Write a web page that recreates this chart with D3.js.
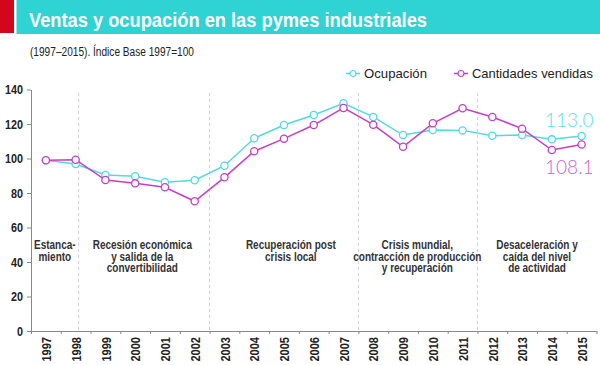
<!DOCTYPE html>
<html>
<head>
<meta charset="utf-8">
<script src="https://cdn.jsdelivr.net/npm/d3@7"></script>
<style>
  body { margin: 0; background: #fff; }
  .cond { font-family: "Liberation Sans", Arial, sans-serif; font-weight: bold; }
</style>
</head>
<body>
<script>
// Data
var years = [1997, 1998, 1999, 2000, 2001, 2002, 2003, 2004, 2005, 2006,
             2007, 2008, 2009, 2010, 2011, 2012, 2013, 2014, 2015];
var ocupacion = [99, 96.8, 90.4, 89.7, 86.2, 87.4, 95.8, 111.7, 119.4, 125.2,
                 132.0, 124.1, 113.6, 116.5, 116.3, 113.2, 113.6, 111.1, 113.0];
var vendidas = [99, 99.3, 87.5, 85.6, 83.3, 75.2, 89.1, 104.2, 111.5, 119.4,
                129.3, 119.6, 106.8, 120.4, 129.1, 124.1, 117.3, 104.9, 108.1];
var yTicks = [0, 20, 40, 60, 80, 100, 120, 140];
var separators = [1998.1, 2002.5, 2007.5, 2011.5];
var periodPos = [1997.3, 2000.24, 2005.23, 2009.48, 2013.5];
var periodText = [
  ["Estanca-", "miento"],
  ["Recesión económica", "y salida de la", "convertibilidad"],
  ["Recuperación post", "crisis local"],
  ["Crisis mundial,", "contracción de producción", "y recuperación"],
  ["Desaceleración y", "caída del nivel", "de actividad"]
];

var W = 600, H = 365;
var cyan = "#4fdbe0", magenta = "#c93cc9";
var squeeze = 0.8; // the reference uses a condensed face

var svg = d3.select("body").append("svg")
  .attr("width", W)
  .attr("height", H);

// Header bar
svg.append("rect").attr("x", 0).attr("y", 0).attr("width", 14).attr("height", 33).attr("fill", "#d2061c");
svg.append("rect").attr("x", 16.5).attr("y", 0).attr("width", W - 16.5).attr("height", 34).attr("fill", "#2fd3d3");
svg.append("text")
  .attr("x", 29).attr("y", 26.5)
  .attr("textLength", 398).attr("lengthAdjust", "spacingAndGlyphs")
  .style("font-family", "Liberation Sans, Arial, sans-serif")
  .style("font-weight", "bold").style("font-size", "21px")
  .attr("fill", "#fff")
  .text("Ventas y ocupación en las pymes industriales");

svg.append("text")
  .attr("x", 30).attr("y", 55.5)
  .attr("textLength", 164).attr("lengthAdjust", "spacingAndGlyphs")
  .style("font-family", "Liberation Sans, Arial, sans-serif")
  .style("font-size", "12.5px")
  .attr("fill", "#222")
  .text("(1997–2015). Índice Base 1997=100");

// Scales
var x = d3.scaleLinear().domain([1996.5, 2015.5]).range([31, 596.5]);
var y = d3.scaleLinear().domain([0, 140]).range([331, 89.5]);

// Period separators
svg.selectAll(".sep")
  .data(separators)
  .enter().append("line")
  .attr("class", "sep")
  .attr("x1", function(d) { return x(d); })
  .attr("x2", function(d) { return x(d); })
  .attr("y1", 93).attr("y2", y(0))
  .attr("stroke", "#cfcfcf")
  .attr("stroke-dasharray", "3,3");

// Period labels
var pl = svg.selectAll(".period")
  .data(periodText)
  .enter().append("g")
  .attr("transform", function(d, i) { return "translate(" + x(periodPos[i]) + ",0) scale(" + squeeze + ",1)"; })
  .append("text")
  .attr("class", "period cond")
  .attr("text-anchor", "middle")
  .style("font-size", "12.5px")
  .attr("fill", "#333");
pl.selectAll("tspan")
  .data(function(d) { return d; })
  .enter().append("tspan")
  .attr("x", 0)
  .attr("y", function(d, j) { return 249 + j * 11.7; })
  .text(function(d) { return d; });

// Y axis
var yAxis = svg.append("g")
  .attr("transform", "translate(31,0)")
  .call(d3.axisLeft(y).tickValues(yTicks).tickSize(4).tickSizeOuter(0).tickPadding(4));
yAxis.selectAll("text")
  .attr("class", "cond")
  .style("font-size", "13px")
  .attr("fill", "#222")
  .attr("x", -8 / 0.83)
  .attr("transform", "scale(0.83,1)");

// X axis: boundary ticks + rotated year labels
var bounds = years.map(function(d) { return d - 0.5; }).concat([2015.5]);
svg.append("g")
  .attr("transform", "translate(0," + y(0) + ")")
  .call(d3.axisBottom(x).tickValues(bounds).tickSize(3).tickSizeOuter(0).tickFormat(""));
svg.append("g")
  .attr("transform", "translate(0," + y(0) + ")")
  .call(d3.axisBottom(x).tickValues(years).tickSize(0).tickFormat(d3.format("d")))
  .call(function(g) { g.select(".domain").remove(); })
  .selectAll("text")
  .attr("class", "cond")
  .style("font-size", "13px")
  .attr("fill", "#222")
  .attr("text-anchor", "end")
  .attr("transform", "rotate(-90) scale(0.85,1)")
  .attr("x", -6 / 0.85).attr("y", 0).attr("dy", "0.36em");

svg.selectAll(".domain, .tick line").attr("stroke", "#8a8a8a");

// Lines
var line = d3.line()
  .x(function(d, i) { return x(years[i]); })
  .y(function(d) { return y(d); });

function drawSeries(values, color) {
  svg.append("path")
    .datum(values)
    .attr("fill", "none")
    .attr("stroke", color)
    .attr("stroke-width", 1.5)
    .attr("d", line);
  svg.selectAll(null)
    .data(values)
    .enter().append("circle")
    .attr("cx", function(d, i) { return x(years[i]); })
    .attr("cy", function(d) { return y(d); })
    .attr("r", 3.6)
    .attr("fill", "#fff")
    .attr("stroke", color)
    .attr("stroke-width", 1.3);
}
drawSeries(ocupacion, cyan);
drawSeries(vendidas, magenta);

// End labels
var last = years.length - 1;
svg.append("text")
  .attr("x", x(years[last]) + 12).attr("y", y(ocupacion[last]) - 9)
  .attr("text-anchor", "end")
  .style("font-family", "Lato, Roboto, sans-serif").style("font-weight", 300)
  .style("font-size", "19px").attr("fill", "#62e0e4")
  .text(ocupacion[last].toFixed(1));
svg.append("text")
  .attr("x", x(years[last]) + 12).attr("y", y(vendidas[last]) + 29.5)
  .attr("text-anchor", "end")
  .style("font-family", "Lato, Roboto, sans-serif").style("font-weight", 300)
  .style("font-size", "19px").attr("fill", "#d05fd3")
  .text(vendidas[last].toFixed(1));

// Legend
var legend = [
  { name: "Ocupación", color: cyan, cx: 353, w: 63 },
  { name: "Cantidades vendidas", color: magenta, cx: 461, w: 121 }
];
var lg = svg.selectAll(".lg").data(legend).enter().append("g")
  .attr("transform", function(d) { return "translate(" + d.cx + ",73.5)"; });
lg.append("line").attr("x1", -7).attr("x2", 7).attr("stroke", function(d) { return d.color; }).attr("stroke-width", 1.5);
lg.append("circle").attr("r", 3).attr("fill", "#fff").attr("stroke", function(d) { return d.color; }).attr("stroke-width", 1.2);
lg.append("text")
  .attr("x", 11).attr("y", 4)
  .attr("textLength", function(d) { return d.w; }).attr("lengthAdjust", "spacingAndGlyphs")
  .style("font-family", "Liberation Sans, Arial, sans-serif")
  .style("font-size", "13.5px").attr("fill", "#222")
  .text(function(d) { return d.name; });
</script>
</body>
</html>
